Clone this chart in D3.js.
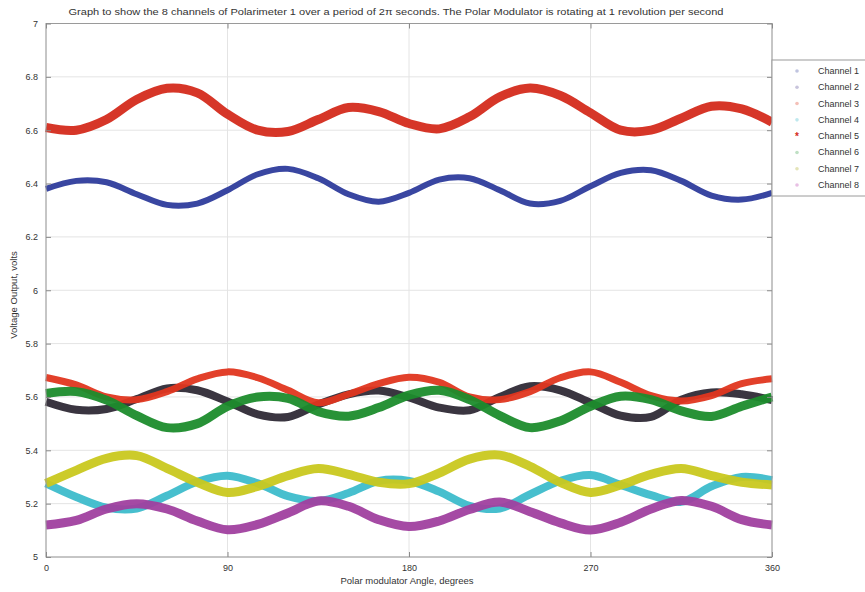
<!DOCTYPE html>
<html><head><meta charset="utf-8">
<script src="https://cdn.jsdelivr.net/npm/d3@7"></script>
<style>body{margin:0;background:#fff}svg{display:block}</style>
</head><body><svg id="c" width="865" height="592"></svg>
<script>
const angles = [0,15,30,45,60,75,90,105,120,135,150,165,180,195,210,225,240,255,270,285,300,315,330,345,360];
const channelNames = ["Channel 1","Channel 2","Channel 3","Channel 4","Channel 5","Channel 6","Channel 7","Channel 8"];
const ch1 = [6.38,6.41,6.405,6.36,6.32,6.325,6.375,6.435,6.455,6.42,6.36,6.332,6.365,6.415,6.42,6.375,6.325,6.335,6.39,6.44,6.45,6.41,6.355,6.34,6.365];
const ch2 = [5.582,5.552,5.555,5.592,5.632,5.625,5.583,5.535,5.525,5.572,5.61,5.624,5.598,5.56,5.55,5.60,5.64,5.625,5.578,5.53,5.525,5.59,5.617,5.61,5.588];
const ch3 = [5.673,5.645,5.60,5.59,5.62,5.668,5.694,5.672,5.625,5.578,5.61,5.65,5.674,5.655,5.60,5.59,5.62,5.672,5.694,5.655,5.605,5.585,5.605,5.65,5.668];
const ch4 = [5.276,5.225,5.185,5.182,5.23,5.282,5.305,5.276,5.228,5.21,5.24,5.285,5.285,5.245,5.192,5.182,5.235,5.285,5.307,5.27,5.232,5.207,5.265,5.30,5.288];
const ch5 = [6.61,6.60,6.64,6.715,6.757,6.74,6.66,6.60,6.595,6.64,6.685,6.67,6.625,6.605,6.65,6.725,6.758,6.73,6.665,6.60,6.60,6.645,6.69,6.68,6.63];
const ch6 = [5.613,5.62,5.588,5.53,5.485,5.50,5.565,5.60,5.595,5.545,5.528,5.56,5.607,5.625,5.59,5.53,5.485,5.51,5.565,5.603,5.59,5.548,5.527,5.565,5.60];
const ch7 = [5.276,5.325,5.37,5.38,5.332,5.28,5.242,5.265,5.305,5.332,5.31,5.28,5.275,5.315,5.367,5.382,5.34,5.28,5.242,5.27,5.31,5.332,5.305,5.28,5.27];
const ch8 = [5.12,5.137,5.18,5.20,5.18,5.135,5.102,5.122,5.165,5.21,5.19,5.14,5.114,5.135,5.178,5.206,5.17,5.128,5.101,5.13,5.18,5.212,5.19,5.14,5.12];
const xTicks = [0,90,180,270,360];
const xTickLabels = ["0","90","180","270","360"];
const yTicks = [5,5.2,5.4,5.6,5.8,6,6.2,6.4,6.6,6.8,7];
const yTickLabels = ["5","5.2","5.4","5.6","5.8","6","6.2","6.4","6.6","6.8","7"];
const titleText = "Graph to show the 8 channels of Polarimeter 1 over a period of 2\u03c0 seconds. The Polar Modulator is rotating at 1 revolution per second";
const xLabel = "Polar modulator Angle, degrees";
const yLabel = "Voltage Output, volts";

const series = [ch1,ch2,ch3,ch4,ch5,ch6,ch7,ch8];
const colors = ["#2e3c9c","#2f2a36","#e0361f","#3dbccb","#d42b1c","#1c8c2c","#c9c81f","#a0409f"];
const widths = [6,8,7,8,9,9,9,9];
const legendMarkColors = ["#c0c4e0","#c8c4dc","#f4c0b8","#bfe8ee","#d42b1c","#bfe0c4","#e4e4b8","#e8c0e4"];

const svg = d3.select("#c");
const L=46,R=772,T=23.5,B=557;
const x = d3.scaleLinear().domain([0,360]).range([L,R]);
const y = d3.scaleLinear().domain([5,7]).range([B,T]);
const font = "Arial, 'Liberation Sans', sans-serif";
const tcol = "#333";

// grid
const g = svg.append("g");
g.selectAll(".gx").data(xTicks).enter().append("line")
  .attr("x1",d=>x(d)).attr("x2",d=>x(d)).attr("y1",T).attr("y2",B)
  .attr("stroke","#e4e4e4").attr("stroke-width",1);
g.selectAll(".gy").data(yTicks).enter().append("line")
  .attr("y1",d=>y(d)).attr("y2",d=>y(d)).attr("x1",L).attr("x2",R)
  .attr("stroke","#e4e4e4").attr("stroke-width",1);

// lines
const line = d3.line().x((d,i)=>x(angles[i])).y(d=>y(d)).curve(d3.curveCatmullRom.alpha(0.5));
const order = [0,4,1,2,5,3,6,7];
svg.append("g").selectAll("path").data(order).enter().append("path")
  .attr("d",i=>line(series[i])).attr("fill","none")
  .attr("stroke",i=>colors[i]).attr("stroke-width",i=>widths[i])
  .attr("stroke-linejoin","round").attr("stroke-linecap","butt").attr("opacity",0.95);

// axes box
svg.append("rect").attr("x",L).attr("y",T).attr("width",R-L).attr("height",B-T)
  .attr("fill","none").attr("stroke","#9a9a9a").attr("stroke-width",1);

const xAxis = d3.axisBottom(x).tickValues(xTicks).tickSize(-5).tickPadding(8)
  .tickFormat((d,i)=>xTickLabels[i]);
const xa = svg.append("g").attr("transform",`translate(0,${B})`).call(xAxis);
const yAxis = d3.axisLeft(y).tickValues(yTicks).tickSize(-5).tickPadding(8)
  .tickFormat((d,i)=>yTickLabels[i]);
const ya = svg.append("g").attr("transform",`translate(${L},0)`).call(yAxis);
const xaTop = svg.append("g").attr("transform",`translate(0,${T})`)
  .call(d3.axisTop(x).tickValues(xTicks).tickSize(-5).tickFormat(""));
const yaR = svg.append("g").attr("transform",`translate(${R},0)`)
  .call(d3.axisRight(y).tickValues(yTicks).tickSize(-5).tickFormat(""));
[xa,ya,xaTop,yaR].forEach(a=>{
  a.select(".domain").remove();
  a.selectAll(".tick line").attr("stroke","#8a8a8a");
  a.selectAll("text").attr("font-family",font).attr("font-size",9).attr("fill",tcol);
});

// title and labels
svg.append("text").attr("x",396).attr("y",15).attr("text-anchor","middle")
  .attr("font-family",font).attr("font-size",9).attr("fill","#333")
  .attr("textLength",655).attr("lengthAdjust","spacingAndGlyphs").text(titleText);
svg.append("text").attr("x",407).attr("y",584).attr("text-anchor","middle")
  .attr("font-family",font).attr("font-size",9.5).attr("fill","#333").text(xLabel);
svg.append("text").attr("transform","translate(17,295) rotate(-90)").attr("text-anchor","middle")
  .attr("font-family",font).attr("font-size",9.5).attr("fill","#333").text(yLabel);

// legend
const lg = svg.append("g");
lg.append("rect").attr("x",772).attr("y",60).attr("width",100).attr("height",136)
  .attr("fill","#fff").attr("stroke","#9a9a9a").attr("stroke-width",1);
const ly = d3.scaleLinear().domain([0,7]).range([71,185]);
channelNames.forEach((n,i)=>{
  if(i===4){
    lg.append("text").attr("x",797).attr("y",ly(i)+4).attr("text-anchor","middle")
      .attr("font-family",font).attr("font-size",10).attr("font-weight","bold").attr("fill",colors[i]).text("*");
  } else {
    lg.append("circle").attr("cx",797).attr("cy",ly(i)).attr("r",1.8).attr("fill",legendMarkColors[i]);
  }
  lg.append("text").attr("x",818).attr("y",ly(i)+3).attr("font-family",font).attr("font-size",9)
    .attr("fill","#333").text(n);
});
</script></body></html>
